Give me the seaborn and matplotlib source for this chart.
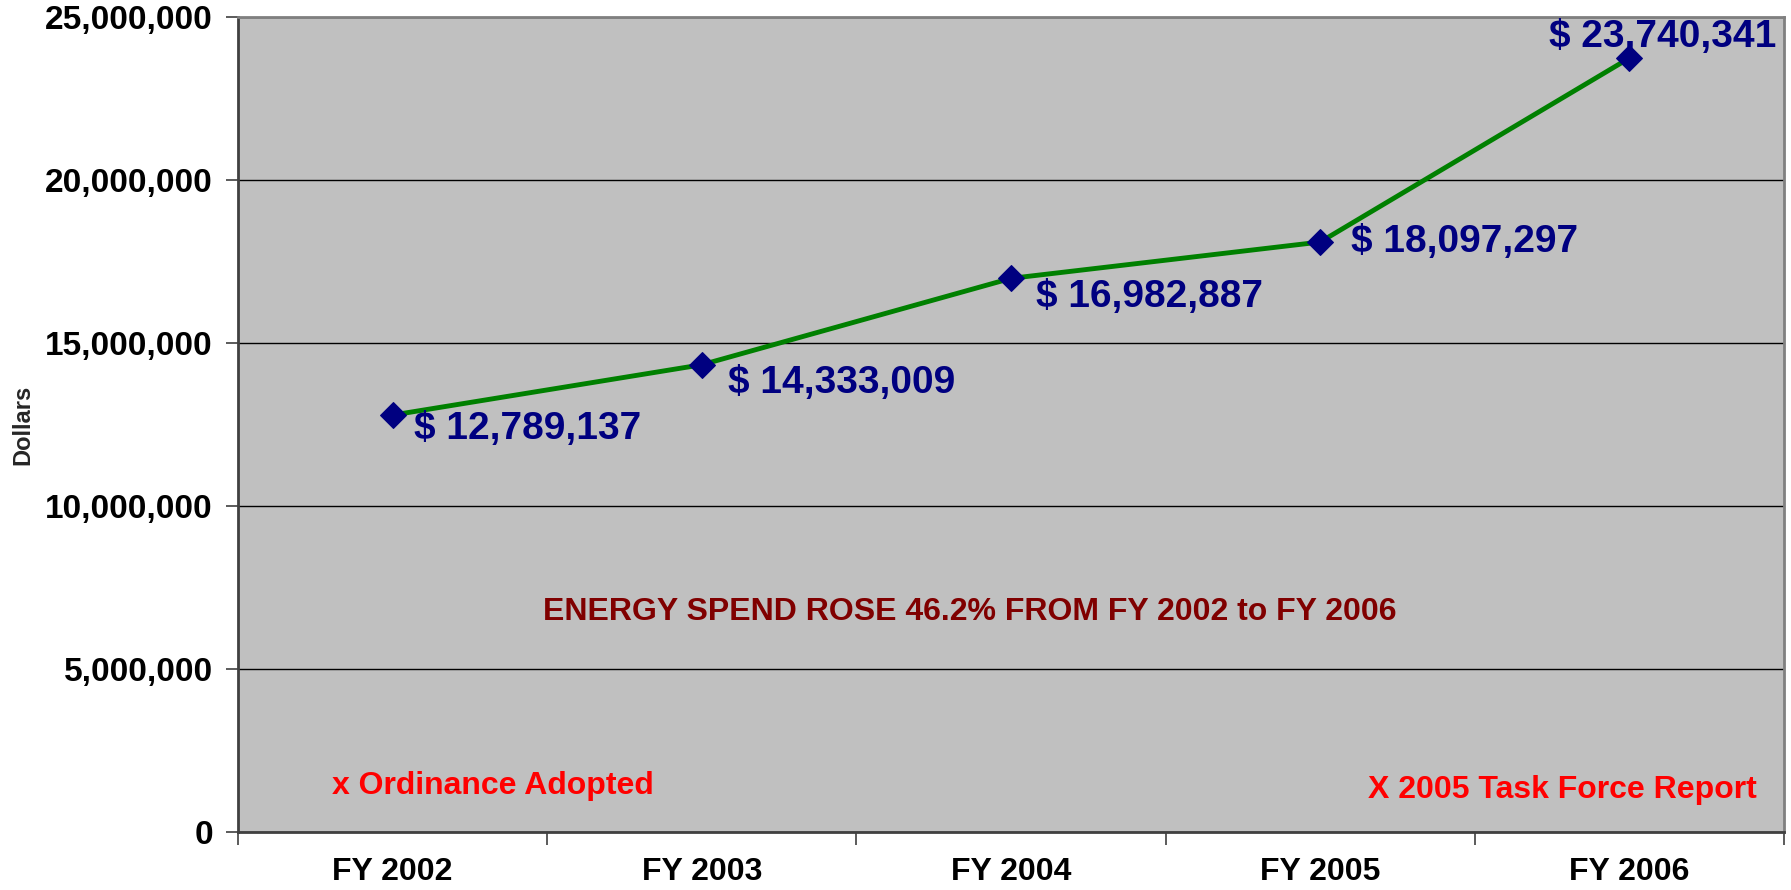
import matplotlib
matplotlib.use("Agg")
import matplotlib.pyplot as plt
from matplotlib.ticker import FuncFormatter, MultipleLocator
import numpy as np
import pandas as pd
import seaborn as sns

# data
years = ["FY 2002", "FY 2003", "FY 2004", "FY 2005", "FY 2006"]
spend = [12789137, 14333009, 16982887, 18097297, 23740341]

# label offsets in pixels from each marker (Excel-style label placement)
label_offsets = [(21, -14), (26, -18), (25, -19), (31, 0), (-80, 21)]

df = pd.DataFrame({"year": years, "spend": spend})
df["pos"] = np.arange(len(years))

sns.set_theme(style="white")
plt.rcParams["font.family"] = ["Liberation Sans", "DejaVu Sans"]
plt.rcParams["font.weight"] = "bold"

fig = plt.figure(figsize=(17.91, 8.90), dpi=100)
ax = fig.add_axes([238 / 1791, 58 / 890, (1784 - 238) / 1791, (832 - 17) / 890])
ax.set_facecolor("#c0c0c0")

sns.lineplot(data=df, x="pos", y="spend", ax=ax, color="#008000", linewidth=3.5,
             marker="D", markersize=13, markerfacecolor="#000080",
             markeredgecolor="#000080", zorder=3)

ax.set_xlim(-0.5, len(years) - 0.5)
ax.set_ylim(0, 25000000)

# horizontal gridlines
ax.yaxis.set_major_locator(MultipleLocator(5000000))
ax.yaxis.set_major_formatter(FuncFormatter(lambda v, p: f"{v:,.0f}"))
ax.grid(axis="y", color="black", linewidth=1)
ax.set_axisbelow(True)

# category labels at centres, tick marks at category boundaries
ax.set_xticks(df["pos"])
ax.set_xticklabels(years)
ax.set_xticks(np.arange(len(years) + 1) - 0.5, minor=True)
ax.tick_params(axis="x", which="major", length=0, pad=18, labelsize=23)
ax.tick_params(axis="x", which="minor", length=9, width=1.2, color="#404040",
               bottom=True)
ax.tick_params(axis="y", length=9, width=1.2, color="#404040", left=True,
               pad=9, labelsize=24)
for lab in ax.get_xticklabels() + ax.get_yticklabels():
    lab.set_fontweight("bold")
    lab.set_color("black")

ax.set_xlabel("")
ax.set_ylabel("Dollars", fontsize=17, fontweight="bold", labelpad=8)

for side in ["left", "bottom"]:
    ax.spines[side].set_color("#404040")
    ax.spines[side].set_linewidth(2)
for side in ["top", "right"]:
    ax.spines[side].set_color("#808080")
    ax.spines[side].set_linewidth(2)

# data labels
for (x, y), (dx, dy) in zip(zip(df["pos"], df["spend"]), label_offsets):
    ax.annotate(f"$ {y:,.0f}", (x, y), xytext=(dx, dy),
                textcoords="offset pixels", ha="left", va="center",
                fontsize=28, fontweight="bold", color="#000080")

ax.text((543 - 238) / 1546, (832 - 612) / 815,
        "ENERGY SPEND ROSE 46.2% FROM FY 2002 to FY 2006",
        transform=ax.transAxes, ha="left", va="center", fontsize=23,
        fontweight="bold", color="#800000")
ax.text((332 - 238) / 1546, (832 - 786) / 815, "x Ordinance Adopted",
        transform=ax.transAxes, ha="left", va="center", fontsize=23,
        fontweight="bold", color="#ff0000")
ax.text((1757 - 238) / 1546, (832 - 790) / 815, "X 2005 Task Force Report",
        transform=ax.transAxes, ha="right", va="center", fontsize=23,
        fontweight="bold", color="#ff0000")

fig.savefig("out.png", dpi=100)
plt.close(fig)
